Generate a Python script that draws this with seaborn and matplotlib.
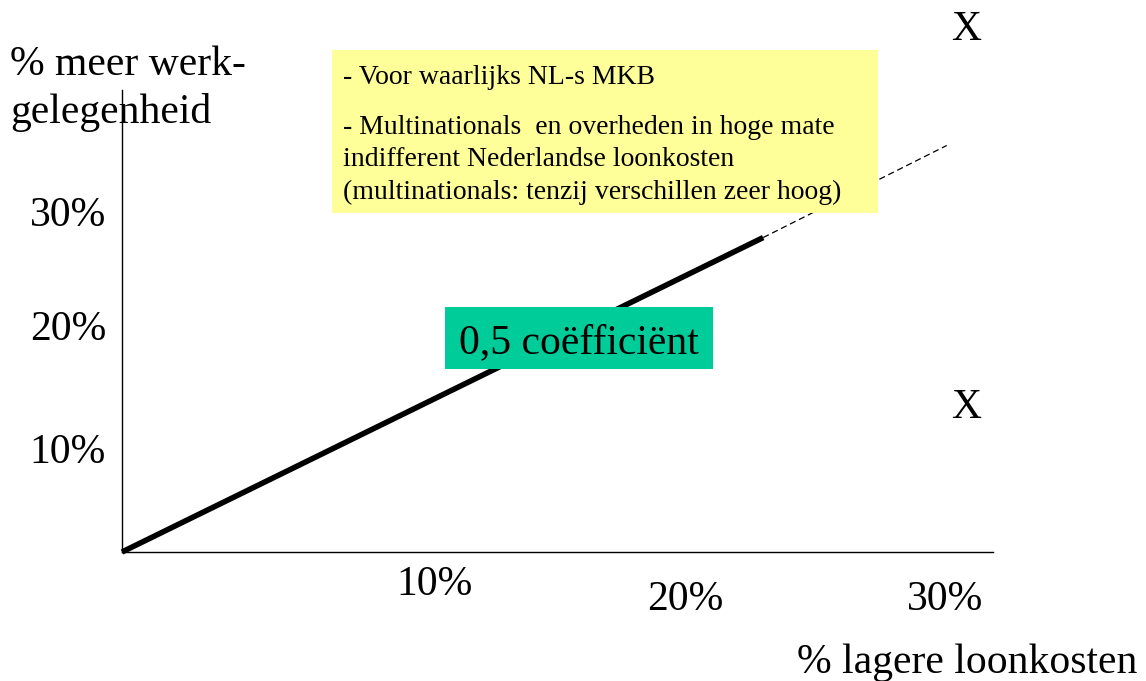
import matplotlib
matplotlib.use("Agg")
import matplotlib.pyplot as plt
import matplotlib.patches as patches
import seaborn as sns
import pandas as pd

# data (in % units)
solid_x = [0, 23.4]
solid_y = [0, 28.0]
dash_x = [23.4, 30.1]
dash_y = [28.0, 36.2]

y_tick_labels = ['30%', '20%', '10%']
x_tick_labels = ['10%', '20%', '30%']
box_lines = ['- Voor waarlijks NL-s MKB',
             '- Multinationals  en overheden in hoge mate',
             'indifferent Nederlandse loonkosten',
             '(multinationals: tenzij verschillen zeer hoog)']
coef_label = '0,5 coëfficiënt'

sns.set_style('white')
plt.rcParams['font.family'] = ['Liberation Serif', 'DejaVu Serif']
plt.rcParams['text.color'] = 'black'

W, H = 1146, 681
fig = plt.figure(figsize=(W / 100, H / 100), dpi=100)


def px(x, y):
    return x / W, 1 - y / H


# axes: origin at (122, 552), right end 993, top 90
ax = fig.add_axes([122 / W, (H - 552) / H, (993 - 122) / W, (552 - 90) / H])
ax.set_xlim(0, (993 - 122) / 27.4)
ax.set_ylim(0, (552 - 90) / 11.23)
for s in ['top', 'right']:
    ax.spines[s].set_visible(False)
for s in ['left', 'bottom']:
    ax.spines[s].set_color('black')
    ax.spines[s].set_linewidth(1.0)
ax.set_xticks([])
ax.set_yticks([])
ax.patch.set_alpha(0)

solid = pd.DataFrame({'x': solid_x, 'y': solid_y})
dashed = pd.DataFrame({'x': dash_x, 'y': dash_y})
sns.lineplot(data=solid, x='x', y='y', color='black', linewidth=4.0, ax=ax,
             solid_capstyle='butt', clip_on=False)
sns.lineplot(data=dashed, x='x', y='y', color='black', linewidth=0.9, ax=ax,
             linestyle=(0, (5, 3)), clip_on=False)
ax.set_xlabel('')
ax.set_ylabel('')

big = 30
small = 20
dy = 3  # vertical nudge for text centring

# yellow box
yb = patches.Rectangle(px(332, 213), (878 - 332) / W, (213 - 50) / H,
                       transform=fig.transFigure, facecolor='#FFFF99',
                       edgecolor='none', zorder=3)
fig.patches.append(yb)
for txt, yy in zip(box_lines, [75, 125, 157, 190]):
    fig.text(*px(343, yy + 2), txt, fontsize=small, va='center', ha='left', zorder=4)

# green box
gb = patches.Rectangle(px(445, 369), (713 - 445) / W, (369 - 307) / H,
                       transform=fig.transFigure, facecolor='#00CC99',
                       edgecolor='none', zorder=3)
fig.patches.append(gb)
fig.text(*px(579, 340 + dy), coef_label, fontsize=big, va='center', ha='center', zorder=4)

# axis titles
fig.text(*px(10, 62 + dy), '% meer werk-', fontsize=big, va='center', ha='left')
fig.text(*px(10, 110 + dy), 'gelegenheid', fontsize=big, va='center', ha='left')
fig.text(*px(1137, 660 + dy), '% lagere loonkosten', fontsize=big, va='center', ha='right')

# tick labels
for lab, yy in zip(y_tick_labels, [213, 327, 450]):
    fig.text(*px(106, yy + dy), lab, fontsize=big, va='center', ha='right')
for lab, (xx, yy) in zip(x_tick_labels, [(435, 582), (685, 597), (945, 597)]):
    fig.text(*px(xx, yy + dy), lab, fontsize=big, va='center', ha='center')

# markers
fig.text(*px(966, 27 + dy), 'X', fontsize=big, va='center', ha='center')
fig.text(*px(966, 405 + dy), 'X', fontsize=big, va='center', ha='center')

fig.savefig('out.png', dpi=100)
